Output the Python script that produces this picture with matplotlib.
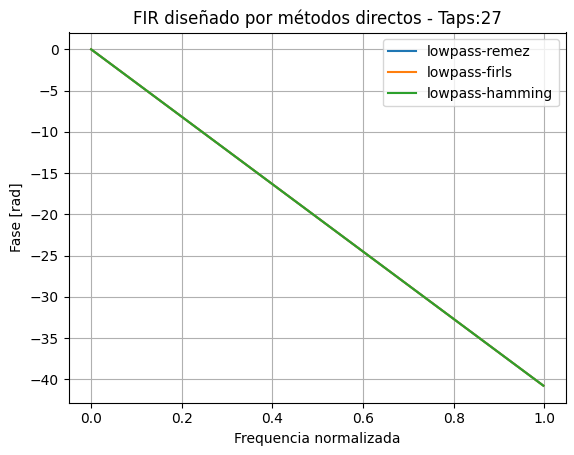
import matplotlib
matplotlib.use("Agg")
import matplotlib.pyplot as plt

freq = [0.0, 0.998]
phase_remez = [0.0, -40.76]
phase_firls = [0.0, -40.76]
phase_hamming = [0.0, -40.76]
labels = ["lowpass-remez", "lowpass-firls", "lowpass-hamming"]

W, H = 574, 455
left, top, right, bottom = 68.5, 32.5, 566, 402.5
fig = plt.figure(figsize=(W/100, H/100), dpi=100)
ax = fig.add_axes([left/W, 1 - bottom/H, (right-left)/W, (bottom-top)/H])
ax.plot(freq, phase_remez, label=labels[0])
ax.plot(freq, phase_firls, label=labels[1])
ax.plot(freq, phase_hamming, label=labels[2])
ax.set_title("FIR diseñado por métodos directos - Taps:27")
ax.set_xlabel("Frequencia normalizada")
ax.set_ylabel("Fase [rad]")
ax.grid(True)
ax.legend(loc="upper right")
fig.savefig("out.png", dpi=100)
